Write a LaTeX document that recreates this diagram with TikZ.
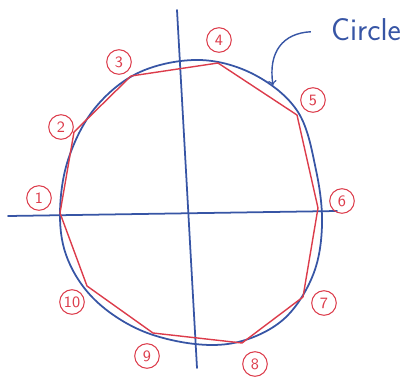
\documentclass[tikz,border=0pt]{standalone}
\usepackage{tkz-euclide}
\usetikzlibrary{arrows,calc}
\definecolor{PenBlue}{RGB}{55,85,165}
\definecolor{PenRed}{RGB}{220,60,75}
\tikzset{num/.style={circle,draw=PenRed,text=PenRed,line width=0.6pt,
  inner sep=1pt,minimum size=14pt,font=\sffamily\fontsize{9}{9}\selectfont}}

\begin{document}
\begin{tikzpicture}[x=0.02cm,y=-0.02cm]
\useasboundingbox (0,0) rectangle (410,380);
\tkzSetUpLine[line width=1pt,color=PenBlue]

\tkzDefPoints{8/216/W,337/211/E,177/10/N,197/368/S}
\tkzDefPoints{60/213/P1,74/132/P2,131/76/P3,218/63/P4,297/115/P5,
  318/208/P6,303/297/P7,242/343/P8,153/333/P9,87/286/P10}

% axes
\tkzDrawSegments(W,E N,S)

% the circle, drawn by hand
\draw[PenBlue,line width=1pt] plot[smooth cycle,tension=0.6] coordinates {
  (60,215) (68,160) (95,108) (140,72) (200,60) (255,75) (298,112) (316,170)
  (322,225) (313,275) (285,318) (242,341) (195,344) (140,330) (95,300) (68,260)};

\tkzDrawPolygon[color=PenRed,line width=0.8pt](P1,P2,P3,P4,P5,P6,P7,P8,P9,P10)

\node[num] (n1) at (39,198) {1};
\node[num] (n2) at (61,127) {2};
\node[num] (n3) at (119,62) {3};
\node[num] (n4) at (219,40) {4};
\node[num] (n5) at (313,100) {5};
\node[num] (n6) at (342,201) {6};
\node[num] (n7) at (324,303) {7};
\node[num] (n8) at (255,364) {8};
\node[num] (n9) at (147,356) {9};
\node[num] (n10) at (72,302) {10};

\node[PenBlue,font=\sffamily\fontsize{18}{18}\selectfont] (lbl) at (366,30) {Circle};
\coordinate (tip) at (273,85);
\draw[PenBlue,line width=0.8pt,-to] ([xshift=-8pt,yshift=-1pt]lbl.west)
  .. controls (283,33) and (268,52) .. (tip);
\end{tikzpicture}
\end{document}
